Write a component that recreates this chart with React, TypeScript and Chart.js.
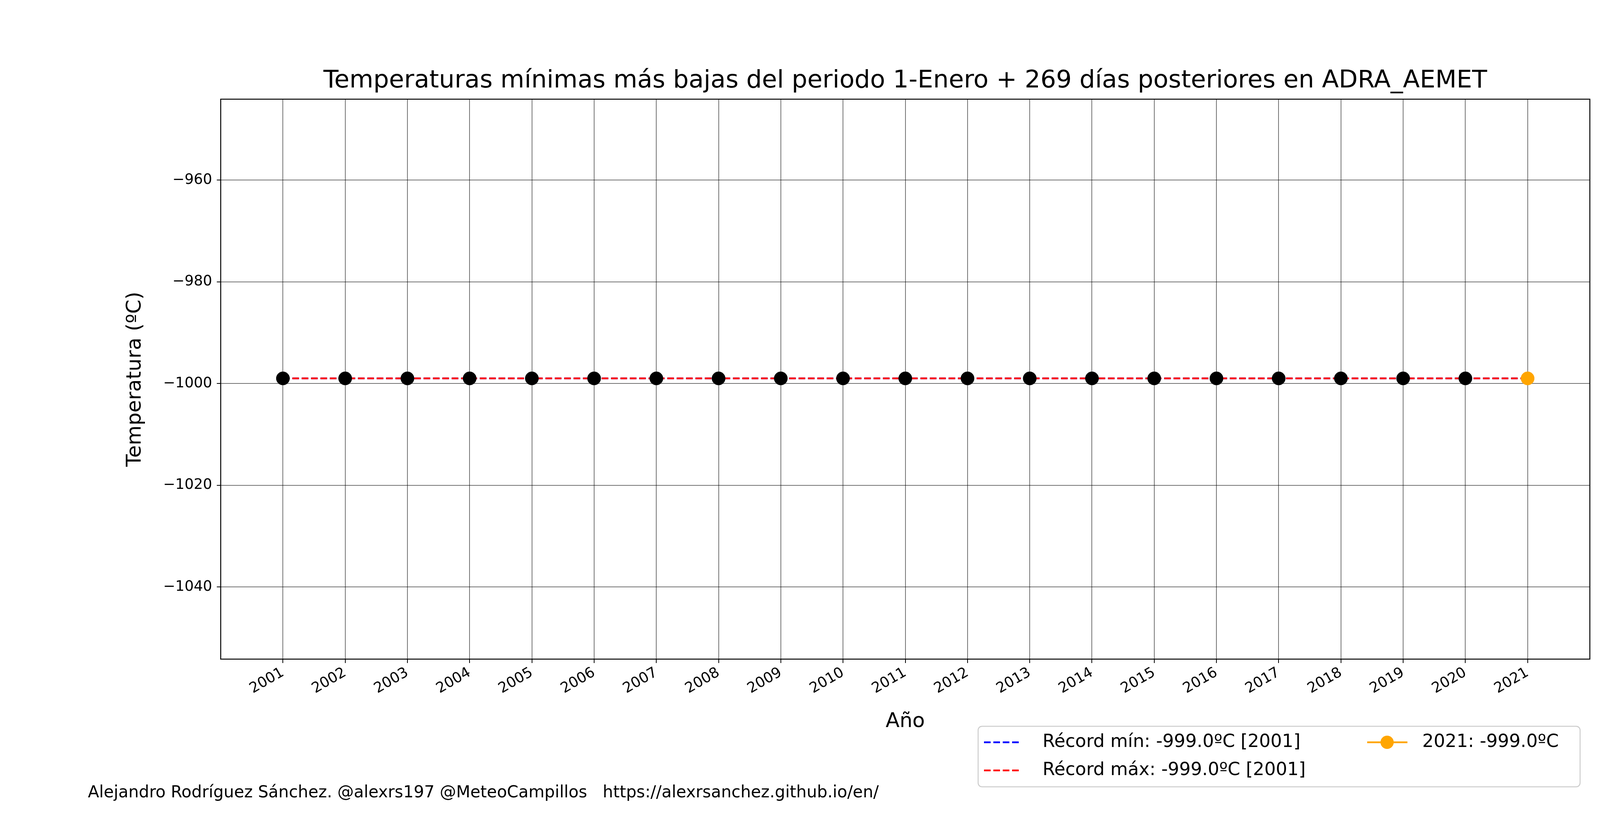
import { useEffect, useRef } from "react"
import { Chart, registerables } from "chart.js"

Chart.register(...registerables)

const years = [2001, 2002, 2003, 2004, 2005, 2006, 2007, 2008, 2009, 2010, 2011, 2012, 2013, 2014, 2015, 2016, 2017, 2018, 2019, 2020]
const minTemps = [-999, -999, -999, -999, -999, -999, -999, -999, -999, -999, -999, -999, -999, -999, -999, -999, -999, -999, -999, -999]
const currentYear = 2021
const currentTemp = -999
const recordMin = -999
const recordMax = -999
const xTicks = [2001, 2002, 2003, 2004, 2005, 2006, 2007, 2008, 2009, 2010, 2011, 2012, 2013, 2014, 2015, 2016, 2017, 2018, 2019, 2020, 2021]
const yTicks = [-1040, -1020, -1000, -980, -960]

const FONT = "'DejaVu Sans', sans-serif"

const overlay = {
  id: "overlay",
  afterDraw(chart: Chart) {
    const { ctx, chartArea: a } = chart
    ctx.save()
    ctx.strokeStyle = "#000"
    ctx.lineWidth = 2.5
    ctx.strokeRect(a.left, a.top, a.right - a.left, a.bottom - a.top)

    ctx.fillStyle = "#000"
    ctx.textAlign = "center"
    ctx.textBaseline = "middle"
    ctx.font = `63px ${FONT}`
    ctx.fillText("Temperaturas mínimas más bajas del periodo 1-Enero + 269 días posteriores en ADRA_AEMET", (a.left + a.right) / 2, 208)
    ctx.font = `52px ${FONT}`
    ctx.fillText("Año", (a.left + a.right) / 2, 1848)
    ctx.save()
    ctx.translate(346, (a.top + a.bottom) / 2)
    ctx.rotate(-Math.PI / 2)
    ctx.fillText("Temperatura (ºC)", 0, 0)
    ctx.restore()

    ctx.textAlign = "left"
    ctx.font = `42px ${FONT}`
    ctx.fillText("Alejandro Rodríguez Sánchez. @alexrs197 @MeteoCampillos   https://alexrsanchez.github.io/en/", 225, 2031)

    // legend
    ctx.fillStyle = "rgba(255,255,255,0.8)"
    ctx.strokeStyle = "#ccc"
    ctx.lineWidth = 2.5
    ctx.beginPath()
    ctx.roundRect(2504, 1860, 1541, 155, 10)
    ctx.fill()
    ctx.stroke()
    ctx.font = `46px ${FONT}`
    ctx.lineWidth = 4.5
    const rows: [string, string, number][] = [
      ["blue", `Récord mín: ${recordMin.toFixed(1)}ºC [2001]`, 1901],
      ["red", `Récord máx: ${recordMax.toFixed(1)}ºC [2001]`, 1973],
    ]
    rows.forEach(([c, t, y]) => {
      ctx.strokeStyle = c
      ctx.setLineDash([17, 7])
      ctx.beginPath()
      ctx.moveTo(2519, y)
      ctx.lineTo(2611, y)
      ctx.stroke()
      ctx.setLineDash([])
      ctx.fillStyle = "#000"
      ctx.fillText(t, 2669, y)
    })
    ctx.strokeStyle = "orange"
    ctx.beginPath()
    ctx.moveTo(3500, 1901)
    ctx.lineTo(3603, 1901)
    ctx.stroke()
    ctx.fillStyle = "orange"
    ctx.beginPath()
    ctx.arc(3551, 1901, 17, 0, Math.PI * 2)
    ctx.fill()
    ctx.fillStyle = "#000"
    ctx.fillText(`${currentYear}: ${currentTemp.toFixed(1)}ºC`, 3641, 1901)
    ctx.restore()
  },
}

export default function App() {
  const canvasRef = useRef<HTMLCanvasElement>(null)
  const chartRef = useRef<Chart | null>(null)

  useEffect(() => {
    document.body.style.margin = "0"
    if (!canvasRef.current) return
    if (chartRef.current) chartRef.current.destroy()
    const ctx = canvasRef.current.getContext("2d")
    if (!ctx) return

    const lineEnds = [years[0], currentYear]
    chartRef.current = new Chart(ctx, {
      type: "scatter",
      data: {
        datasets: [
          {
            label: "datos",
            data: years.map((y, i) => ({ x: y, y: minTemps[i] })),
            backgroundColor: "#000",
            borderColor: "#000",
            pointRadius: 17,
            showLine: false,
            order: 1,
          },
          {
            label: "min",
            data: lineEnds.map((x) => ({ x, y: recordMin })),
            borderColor: "blue",
            borderWidth: 4.5,
            borderDash: [17, 7],
            pointRadius: 0,
            showLine: true,
            order: 3,
          },
          {
            label: "max",
            data: lineEnds.map((x) => ({ x, y: recordMax })),
            borderColor: "red",
            borderWidth: 4.5,
            borderDash: [17, 7],
            pointRadius: 0,
            showLine: true,
            order: 2,
          },
          {
            label: "actual",
            data: [{ x: currentYear, y: currentTemp }],
            backgroundColor: "orange",
            borderColor: "orange",
            pointRadius: 17,
            showLine: false,
            order: 0,
          },
        ],
      },
      options: {
        animation: false,
        responsive: false,
        layout: { padding: { top: 254, right: 430, left: 0, bottom: 0 } },
        plugins: { legend: { display: false }, tooltip: { enabled: false } },
        scales: {
          x: {
            type: "linear",
            min: 2000,
            max: 2022,
            afterBuildTicks: (s: any) => { s.ticks = xTicks.map((v) => ({ value: v })) },
            afterFit: (s: any) => { s.height = 412 },
            ticks: {
              color: "#000",
              font: { size: 37, family: FONT },
              maxRotation: 30,
              minRotation: 30,
              callback: (v: any) => String(v),
            },
            grid: { color: "rgba(0,0,0,0.55)", lineWidth: 2, tickLength: 10, tickColor: "#000" },
            border: { display: false },
          },
          y: {
            min: -1054.2,
            max: -944.1,
            afterBuildTicks: (s: any) => { s.ticks = yTicks.map((v) => ({ value: v })) },
            afterFit: (s: any) => { s.width = 565 },
            ticks: {
              color: "#000",
              font: { size: 37, family: FONT },
              padding: 12,
              callback: (v: any) => String(v).replace("-", "−"),
            },
            grid: { color: "rgba(0,0,0,0.55)", lineWidth: 2, tickLength: 10, tickColor: "#000" },
            border: { display: false },
          },
        },
      },
      plugins: [overlay],
    })

    return () => {
      if (chartRef.current) chartRef.current.destroy()
    }
  }, [])

  return (
    <div style={{ width: 4500, height: 2100, background: "#fff" }}>
      <canvas ref={canvasRef} width={4500} height={2100} style={{ width: 4500, height: 2100 }}></canvas>
    </div>
  )
}
